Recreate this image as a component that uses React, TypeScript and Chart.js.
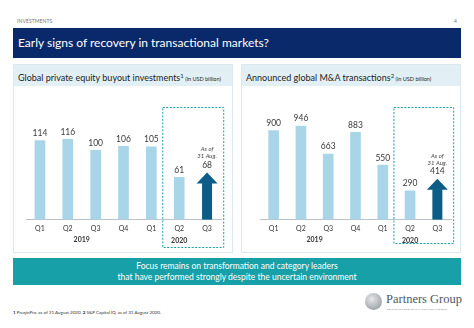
import React, { useEffect, useRef } from "react";
import { Chart, registerables } from "chart.js";
Chart.register(...registerables);

const quarters = ["Q1", "Q2", "Q3", "Q4", "Q1", "Q2", "Q3"];
const years = ["2019", "2020"];
const yearStart = [0, 4];
const yearEnd = [3, 6];
const buyoutValues = [114, 116, 100, 106, 105, 61, 68];
const maValues = [900, 946, 663, 883, 550, 290, 414];
const highlightFrom = 5;
const arrowIndex = 6;
const arrowNote = ["As of", "31 Aug."];

const LIGHT = "#a9d5e9";
const DARK = "#0b5d88";
const TEAL = "#17a0a7";
const NAVY = "#0a296a";
const FONT = "Lato, 'Open Sans', sans-serif";

function BarPanel(props: { values: number[]; yMax: number; padLeft: number; padRight: number; w: number; h: number; boxBottom: number }) {
  const ref = useRef<HTMLCanvasElement | null>(null);
  useEffect(() => {
    const { values, yMax, padLeft, padRight, boxBottom } = props;
    const overlay = {
      id: "overlay",
      afterDatasetsDraw(chart: any) {
        const ctx = chart.ctx;
        const meta = chart.getDatasetMeta(0);
        const xs = chart.scales.x;
        ctx.save();
        // arrow
        const a = meta.data[arrowIndex];
        const headH = 11;
        const headW = 21;
        ctx.fillStyle = DARK;
        ctx.fillRect(a.x - a.width / 2, a.y + headH - 0.5, a.width, a.base - a.y - headH + 0.5);
        ctx.beginPath();
        ctx.moveTo(a.x - headW / 2, a.y + headH);
        ctx.lineTo(a.x, a.y);
        ctx.lineTo(a.x + headW / 2, a.y + headH);
        ctx.closePath();
        ctx.fill();
        // value labels
        ctx.fillStyle = "#3a3a3a";
        ctx.textAlign = "center";
        ctx.textBaseline = "bottom";
        ctx.font = `8.5px ${FONT}`;
        meta.data.forEach((el: any, i: number) => {
          ctx.fillText(String(values[i]), el.x, el.y - 3);
        });
        ctx.font = `italic 6px ${FONT}`;
        ctx.fillStyle = "#444";
        ctx.fillText(arrowNote[0], a.x, a.y - 20);
        ctx.fillText(arrowNote[1], a.x, a.y - 13);
        // year labels
        ctx.font = `bold 7px ${FONT}`;
        ctx.fillStyle = "#333";
        ctx.textBaseline = "middle";
        years.forEach((y, i) => {
          const x = (xs.getPixelForValue(yearStart[i]) + xs.getPixelForValue(yearEnd[i])) / 2;
          ctx.fillText(y, x, chart.chartArea.bottom + 20 + i * 1.5);
        });
        // dashed box
        const step = xs.getPixelForValue(1) - xs.getPixelForValue(0);
        const left = (xs.getPixelForValue(highlightFrom - 1) + xs.getPixelForValue(highlightFrom)) / 2 - 3;
        const right = xs.getPixelForValue(arrowIndex) + step * 0.58;
        ctx.strokeStyle = TEAL;
        ctx.lineWidth = 1;
        ctx.setLineDash([2, 1.5]);
        ctx.strokeRect(left + 0.5, 21.5, right - left, boxBottom - 21);
        ctx.restore();
      },
    };
    const chart = new Chart(ref.current as HTMLCanvasElement, {
      type: "bar",
      data: {
        labels: quarters,
        datasets: [
          {
            data: values,
            backgroundColor: values.map((_, i) => (i === arrowIndex ? "rgba(0,0,0,0)" : LIGHT)),
            barThickness: 10,
            borderWidth: 0,
          },
        ],
      },
      options: {
        animation: false,
        responsive: false,
        maintainAspectRatio: false,
        layout: { padding: { left: padLeft, right: padRight, top: 0, bottom: 12 } },
        plugins: { legend: { display: false }, tooltip: { enabled: false } },
        scales: {
          x: {
            grid: { display: false, drawTicks: false },
            border: { display: true, color: "#b8c2c8", width: 1 },
            ticks: { font: { family: FONT, size: 7 }, color: "#333", padding: 5 },
          },
          y: { display: false, min: 0, max: yMax },
        },
      },
      plugins: [overlay],
    } as any);
    return () => chart.destroy();
  }, []);
  return <canvas ref={ref} width={props.w} height={props.h} style={{ width: props.w, height: props.h, display: "block" }} />;
}

const abs = (l: number, t: number, w: number, h: number): React.CSSProperties => ({ position: "absolute", left: l, top: t, width: w, height: h });

function Panel(props: { left: number; width: number; title: string; sup: string; children: any }) {
  return (
    <div style={{ ...abs(props.left, 64, props.width, 189), border: "1px solid #dde9ef", boxSizing: "border-box", background: "#fff" }}>
      <div style={{ ...abs(0, 0, props.width - 2, 21), background: "#e2f0f6" }} />
      <div style={{ position: "absolute", left: 4, top: 5, whiteSpace: "nowrap", fontFamily: FONT, fontSize: 9, color: "#222", lineHeight: "11px" }}>
        {props.title}
        <sup style={{ fontSize: 6, verticalAlign: "3px" }}>{props.sup}</sup>
        <span style={{ fontSize: 5.5 }}> (in USD billion)</span>
      </div>
      {props.children}
    </div>
  );
}

export default function App() {
  return (
    <div style={{ position: "fixed", left: 0, top: 0, width: 474, height: 328, background: "#fff", overflow: "hidden", fontFamily: FONT }}>
      <div style={{ position: "absolute", left: 17, top: 18, fontSize: 5, color: "#777", letterSpacing: 0.1 }}>INVESTMENTS</div>
      <div style={{ position: "absolute", left: 454, top: 18, fontSize: 5, color: "#777" }}>4</div>
      <div style={{ ...abs(13, 28, 448, 30), background: NAVY }} />
      <div style={{ position: "absolute", left: 18, top: 35, fontSize: 12, color: "#fff", whiteSpace: "nowrap", lineHeight: "15px" }}>
        Early signs of recovery in transactional markets?
      </div>

      <Panel left={13} width={220} title="Global private equity buyout investments" sup="1">
        <div style={abs(-1, 21, 219, 164)}>
          <BarPanel values={buyoutValues} yMax={193} padLeft={13} padRight={11} w={219} h={164} boxBottom={161} />
        </div>
      </Panel>
      <Panel left={241} width={220} title="Announced global M&A transactions" sup="2">
        <div style={abs(-1, 21, 220, 164)}>
          <BarPanel values={maValues} yMax={1350} padLeft={19} padRight={10} w={220} h={164} boxBottom={157} />
        </div>
      </Panel>

      <div style={{ ...abs(13, 258, 448, 27), background: TEAL, color: "#fff", fontSize: 8.5, lineHeight: "11px", textAlign: "center", paddingTop: 3, boxSizing: "border-box" }}>
        Focus remains on transformation and category leaders
        <br />
        that have performed strongly despite the uncertain environment
      </div>

      <div style={{ position: "absolute", left: 13, top: 310, fontSize: 4.5, color: "#333", whiteSpace: "nowrap" }}>
        <b>1</b> PreqinPro, as of 31 August 2020. <b>2</b> S&amp;P Capital IQ, as of 31 August 2020.
      </div>

      <div style={{ ...abs(365, 293, 17, 17), borderRadius: "50%", background: "radial-gradient(circle at 40% 35%, #e6e8ea, #a4a9ae 70%, #8a9095)" }} />
      <div style={{ position: "absolute", left: 386, top: 292, fontFamily: "'Liberation Serif', 'DejaVu Serif', serif", fontSize: 12.5, color: "#4d5a66", whiteSpace: "nowrap", lineHeight: "14px" }}>
        Partners Group
      </div>
      <div style={{ position: "absolute", left: 387, top: 307, fontSize: 2.6, color: "#777", whiteSpace: "nowrap", letterSpacing: 0.15 }}>
        REALISING POTENTIAL IN PRIVATE MARKETS
      </div>
    </div>
  );
}
